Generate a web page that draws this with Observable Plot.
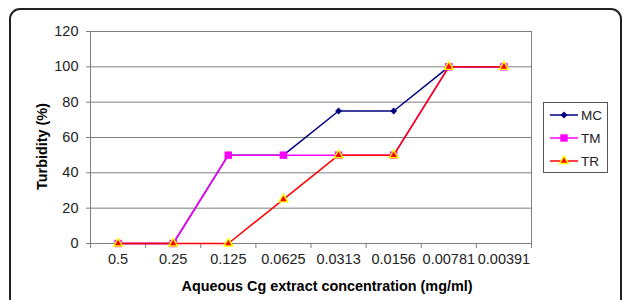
<!DOCTYPE html>
<html>
<head>
<meta charset="utf-8">
<script src="https://cdn.jsdelivr.net/npm/d3@7"></script>
<script src="https://cdn.jsdelivr.net/npm/@observablehq/plot@0.6"></script>
<style>
html,body{margin:0;padding:0;background:#fff;overflow:hidden;}
#wrap{position:relative;width:627px;height:300px;overflow:hidden;font-family:"Liberation Sans",Arial,sans-serif;}
#border{position:absolute;left:9px;top:8px;width:613px;height:340px;border:2px solid #222;border-radius:11px;box-sizing:border-box;}
#chart{position:absolute;left:0;top:0;}
#legend{position:absolute;left:0;top:0;}
</style>
</head>
<body>
<div id="wrap"><div id="border"></div><div id="chart"></div><div id="legend"></div></div>
<script>
const categories = ["0.5","0.25","0.125","0.0625","0.0313","0.0156","0.00781","0.00391"];
const seriesNames = ["MC","TM","TR"];
const mc = [0,0,50,50,75,75,100,100];
const tm = [0,0,50,50,50,50,100,100];
const tr = [0,0,0,25,50,50,100,100];
const yTicks = [0,20,40,60,80,100,120];
const xTitle = "Aqueous Cg extract concentration (mg/ml)";
const yTitle = "Turbidity (%)";

const styles = {
  MC: {stroke:"#000080", fill:"#000080", symbol:"diamond2", r:3.1, markStroke:"none", sw:0},
  TM: {stroke:"#FF00FF", fill:"#FF00FF", symbol:"square", r:4.2, markStroke:"none", sw:0},
  TR: {stroke:"#FF0000", fill:"#FF0000", symbol:"triangle", r:3.3, markStroke:"#FFFF00", sw:1.4}
};
const values = {MC: mc, TM: tm, TR: tr};
const rows = seriesNames.flatMap(s => values[s].map((v, i) => ({series: s, i, v, cat: categories[i]})));

const idx = d3.range(categories.length);
const bounds = d3.range(categories.length + 1).map(k => k - 0.5);

const seriesMarks = seriesNames.flatMap(s => {
  const st = styles[s];
  const data = rows.filter(d => d.series === s);
  return [
    Plot.line(data, {x:"i", y:"v", stroke: st.stroke, strokeWidth:1.5}),
    Plot.dot(data, {x:"i", y:"v", symbol: st.symbol, r: st.r, fill: st.fill, stroke: st.markStroke, strokeWidth: st.sw})
  ];
});

const chart = Plot.plot({
  width: 627, height: 300,
  marginLeft: 90, marginRight: 96, marginTop: 31, marginBottom: 57,
  style: {fontFamily: "'Liberation Sans', Arial, sans-serif", fontSize: "14px", color: "#000", background: "transparent", overflow: "visible"},
  x: {type: "linear", domain: [-0.5, categories.length - 0.5]},
  y: {domain: [0, 120]},
  marks: [
    Plot.gridY(yTicks, {stroke: "#7f7f7f", strokeOpacity: 1}),
    Plot.frame({stroke: "#7f7f7f"}),
    Plot.axisY({ticks: yTicks, tickSize: 4, tickPadding: 8, stroke: "#7f7f7f", fill: "#222", fontSize: 14.5, label: null}),
    Plot.axisX({ticks: bounds, tickSize: 5, stroke: "#7f7f7f", tickFormat: () => "", label: null}),
    Plot.axisX({ticks: idx, tickSize: 0, tickPadding: 10, tickFormat: i => categories[i], fill: "#222", fontSize: 14.5, label: null}),
    Plot.text([yTitle], {frameAnchor: "left", textAnchor: "middle", dx: -48, dy: 9, rotate: -90, fontWeight: "bold", fontSize: 14.4, fill: "#000"}),
    Plot.text([xTitle], {frameAnchor: "bottom", dx: 16, dy: 47, fontWeight: "bold", fontSize: 14.4, fill: "#000"}),
    ...seriesMarks
  ]
});
document.getElementById("chart").appendChild(chart);

// legend
const lg = d3.create("svg").attr("width", 627).attr("height", 300);
lg.append("rect").attr("x", 543.5).attr("y", 102.5).attr("width", 64).attr("height", 70)
  .attr("fill", "#fff").attr("stroke", "#555").attr("stroke-width", 1);
const symMap = {diamond2: d3.symbolDiamond2, square: d3.symbolSquare, triangle: d3.symbolTriangle};
seriesNames.forEach((s, k) => {
  const st = styles[s];
  const y = 115 + k * 23;
  lg.append("line").attr("x1", 550).attr("x2", 578).attr("y1", y).attr("y2", y)
    .attr("stroke", st.stroke).attr("stroke-width", 1.5);
  lg.append("path").attr("d", d3.symbol(symMap[st.symbol], Math.PI * st.r * st.r)()).attr("transform", `translate(564,${y})`)
    .attr("fill", st.fill).attr("stroke", st.markStroke).attr("stroke-width", st.sw);
  lg.append("text").attr("x", 581).attr("y", y).attr("dy", "0.35em").attr("font-size", 13.5)
    .attr("font-family", "'Liberation Sans', Arial, sans-serif").attr("fill", "#222").text(s);
});
document.getElementById("legend").appendChild(lg.node());
</script>
</body>
</html>
